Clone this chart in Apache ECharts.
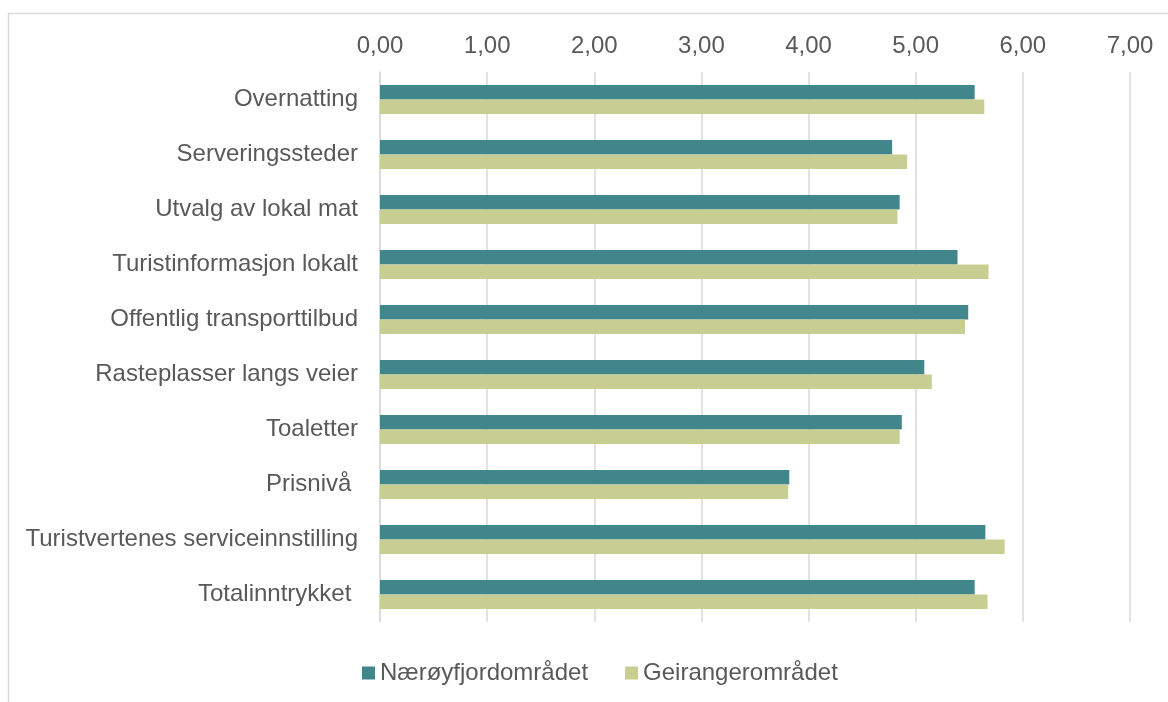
<!DOCTYPE html>
<html lang="no">
<head>
    <meta charset="UTF-8">
    <title>ECharts</title>
    <script src="https://cdn.jsdelivr.net/npm/echarts@6/dist/echarts.min.js"></script>
    <style>
        html, body { margin: 0; padding: 0; background: #fff; }
    </style>
</head>
<body>
<div id="main" style="width: 1168px;height:702px;"></div>

<script type="text/javascript">
    // kategorier (ovenfra og ned)
    var kategorier = ['Overnatting', 'Serveringssteder', 'Utvalg av lokal mat', 'Turistinformasjon lokalt',
        'Offentlig transporttilbud', 'Rasteplasser langs veier', 'Toaletter', 'Prisnivå ',
        'Turistvertenes serviceinnstilling', 'Totalinntrykket '];

    var naeroyfjord = [5.55, 4.78, 4.85, 5.39, 5.49, 5.08, 4.87, 3.82, 5.65, 5.55];
    var geiranger = [5.64, 4.92, 4.83, 5.68, 5.46, 5.15, 4.85, 3.81, 5.83, 5.67];

    var seriesNames = ['Nærøyfjordområdet', 'Geirangerområdet'];

    var font = "'Liberation Sans', Arial, sans-serif";

    var myChart = echarts.init(document.getElementById('main'));

    var option = {
        backgroundColor: '#fff',
        textStyle: { fontFamily: font },
        graphic: [{
            type: 'rect',
            shape: { x: 8.5, y: 13.5, width: 1300, height: 900 },
            style: { fill: 'none', stroke: '#d9d9d9', lineWidth: 1.5 },
            silent: true
        }],
        legend: {
            data: seriesNames,
            bottom: 12,
            left: 357,
            itemWidth: 13,
            itemHeight: 13,
            itemGap: 37,
            icon: 'rect',
            textStyle: { fontSize: 24, color: '#595959', fontFamily: font }
        },
        grid: {
            left: 380,
            right: 38,
            top: 72,
            bottom: 80,
            containLabel: false
        },
        xAxis: {
            type: 'value',
            position: 'top',
            min: 0,
            max: 7,
            interval: 1,
            axisLine: { show: false },
            axisTick: { show: false },
            axisLabel: {
                fontSize: 24,
                color: '#595959',
                margin: 14,
                fontFamily: font,
                formatter: function (v) { return v.toFixed(2).replace('.', ','); }
            },
            splitLine: { show: true, lineStyle: { color: '#d9d9d9', width: 1.5 } }
        },
        yAxis: {
            type: 'category',
            data: kategorier,
            inverse: true,
            axisLine: { show: true, lineStyle: { color: '#d9d9d9', width: 1.5 } },
            axisTick: { show: false },
            axisLabel: { fontSize: 24, color: '#595959', margin: 22, fontFamily: font }
        },
        series: [{
            name: seriesNames[0],
            type: 'bar',
            data: naeroyfjord,
            barWidth: 14.5,
            barGap: '0%',
            itemStyle: { color: '#41868a' }
        }, {
            name: seriesNames[1],
            type: 'bar',
            data: geiranger,
            barWidth: 14.5,
            barGap: '0%',
            itemStyle: { color: '#c8ce91' }
        }]
    };

    myChart.setOption(option);
</script>
</body>
</html>
